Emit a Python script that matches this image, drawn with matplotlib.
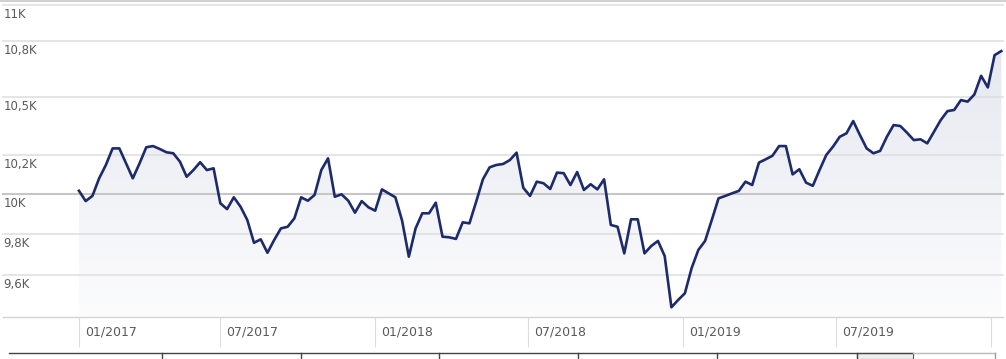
import numpy as np
import pandas as pd
import matplotlib
matplotlib.use("Agg")
import matplotlib.pyplot as plt
from matplotlib.patches import Rectangle
from matplotlib.lines import Line2D

# weekly-ish values (log scale)
values = [
    10016, 9964, 9990, 10079, 10147, 10232, 10232, 10155, 10079, 10155,
    10238, 10244, 10229, 10212, 10207, 10164, 10087, 10121, 10161, 10121,
    10130, 9953, 9924, 9983, 9936, 9870, 9757, 9774, 9708, 9771,
    9828, 9836, 9878, 9983, 9966,
    9995, 10121, 10181, 9986, 9998, 9966, 9906, 9964, 9933, 9916,
    10023, 10003, 9983, 9866, 9689, 9828, 9903, 9903, 9956, 9787,
    9784, 9776, 9858, 9853, 9961, 10074, 10135, 10147, 10152, 10172,
    10210, 10031, 9990, 10062,
    10054, 10025, 10108, 10105, 10045, 10111, 10020, 10049, 10023, 10074,
    9845, 9836, 9705, 9873, 9873, 9705, 9741, 9766, 9692, 9445,
    9480, 9512, 9633, 9722, 9766, 9870, 9978, 9990, 10003, 10015,
    10062, 10045, 10159, 10176,
    10194, 10244, 10244, 10099, 10125, 10057, 10041, 10121, 10198, 10241,
    10292, 10310, 10374, 10301, 10232, 10207, 10219, 10292, 10353, 10348,
    10313, 10275, 10279, 10258, 10318, 10379, 10426, 10432, 10484, 10476,
    10514, 10613, 10551, 10724, 10746,
]
first_date = "2017-01-15"
last_date = "2020-01-13"

ytick_vals = [9600, 9800, 10000, 10200, 10500, 10800, 11000]
ytick_labels = ["9,6K", "9,8K", "10K", "10,2K", "10,5K", "10,8K", "11K"]

xtick_dates = ["2017-01-15", "2017-07-01", "2018-01-01", "2018-07-01",
               "2019-01-01", "2019-07-01", "2020-01-01"]
xtick_labels = ["01/2017", "07/2017", "01/2018", "07/2018",
                "01/2019", "07/2019", ""]

dates = pd.date_range(first_date, last_date, periods=len(values))
ymin, ymax = 9399, 11000

fig = plt.figure(figsize=(10.06, 3.59), dpi=100)
W, H = 1006, 359
ax = fig.add_axes([3 / W, (H - 317) / H, 1000 / W, (317 - 4.7) / H])
ax.set_yscale("log")
ax.set_ylim(ymin, ymax)
ax.set_xlim(pd.Timestamp("2016-10-17"), pd.Timestamp("2020-01-15"))
ax.minorticks_off()
ax.set_yticks([])

# gridlines + labels
for v, lab in zip(ytick_vals, ytick_labels):
    if v == 10000:
        ax.axhline(v, color="#c6c6c6", lw=1.5, zorder=1, clip_on=False)
    else:
        ax.axhline(v, color="#dedede", lw=1.1, zorder=1, clip_on=False)
    ax.annotate(lab, xy=(0, v), xycoords=("axes fraction", "data"),
                xytext=(0.3, -6.9), textcoords="offset points",
                ha="left", va="center", fontsize=8.5, color="#5a5a5a")

# gradient fill under the line
poly = ax.fill_between(dates, values, ymin, color="none", lw=0)
grad = np.linspace(0, 1, 256).reshape(-1, 1)
top_c = np.array([226, 229, 238]) / 255
bot_c = np.array([252, 252, 253]) / 255
img = bot_c + (top_c - bot_c) * grad
im = ax.imshow(img[:, None, :].repeat(2, axis=1), extent=[0, 1, 0, 1],
               transform=ax.transAxes, origin="lower", aspect="auto", zorder=0.5)
im.set_clip_path(poly.get_paths()[0], transform=ax.transData)

ax.plot(dates, values, color="#1d2b6b", lw=1.9, zorder=3,
        solid_joinstyle="round")

for s in ["top", "left", "right"]:
    ax.spines[s].set_visible(False)
ax.spines["bottom"].set_color("#d4d4d4")
ax.spines["bottom"].set_linewidth(1.0)

ax.set_xticks(pd.to_datetime(xtick_dates))
ax.set_xticklabels([""] * len(xtick_dates))
ax.tick_params(axis="x", length=21.6, width=0.8, color="#dddddd", direction="out")
for d, lab in zip(pd.to_datetime(xtick_dates), xtick_labels):
    ax.annotate(lab, xy=(d, 0), xycoords=("data", "axes fraction"),
                xytext=(4.3, -10.8), textcoords="offset points",
                ha="left", va="center", fontsize=9, color="#5a5a5a")

# top border
fig.add_artist(Line2D([0, 1], [1 - 0.8 / H, 1 - 0.8 / H], color="#c8c8c8", lw=1.2))

# navigator strip at the bottom
ny = 1 - 353 / H
fig.add_artist(Line2D([9 / W, 913 / W], [ny, ny], color="#444444", lw=1.0))
fig.add_artist(Line2D([913 / W, 995 / W], [ny, ny], color="#bbbbbb", lw=1.0))
for xv in [162, 301, 439, 578, 717, 857]:
    fig.add_artist(Line2D([xv / W, xv / W], [0, ny], color="#444444", lw=1.0))
fig.add_artist(Rectangle((857 / W, 0), 56 / W, ny, facecolor="#eeeeee",
                         edgecolor="#555555", lw=0.8))
fig.add_artist(Line2D([995 / W, 995 / W], [0, ny], color="#999999", lw=1.0))

fig.savefig("out.png", dpi=100, facecolor="white")
